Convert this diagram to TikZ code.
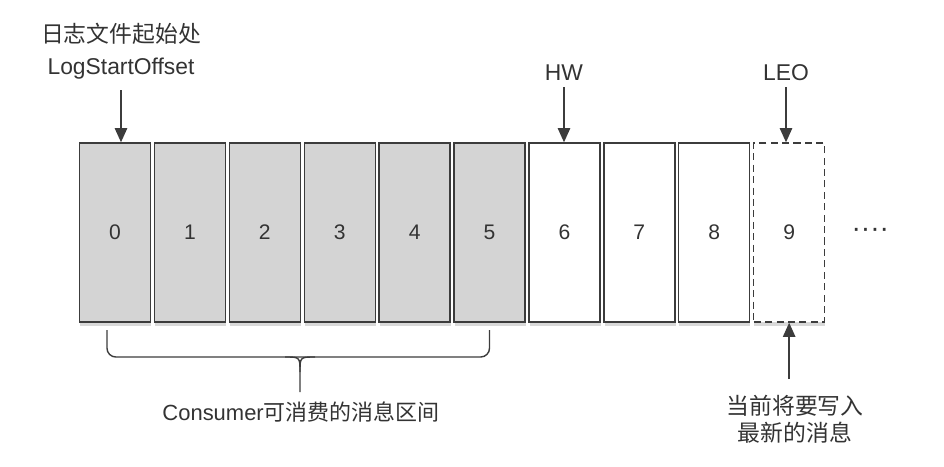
\documentclass[tikz,border=0pt]{standalone}
\usepackage{fontspec}
\setmainfont{Liberation Sans}
\newfontfamily\cjk{Noto Sans CJK SC}
\usetikzlibrary{positioning,shadows,arrows.meta}
\definecolor{cellgray}{RGB}{212,212,212}
\definecolor{linegray}{RGB}{60,60,60}

\begin{document}
\begin{tikzpicture}[
        node distance=0.05cm,
        cell/.style={rectangle, draw=linegray, line width=0.8pt, fill=white, minimum width=1.42cm, minimum height=3.58cm, font=\fontsize{12}{14}\selectfont, text=black!80, drop shadow={shadow xshift=0.4pt, shadow yshift=-2pt, opacity=0.3}},
        used/.style={cell, fill=cellgray},
        note/.style={font=\fontsize{13}{18}\selectfont, align=center, text=black!80},
        arrow/.style={-{Triangle[length=8pt,width=7pt]}, line width=0.8pt, draw=linegray}
    ]
        \useasboundingbox (0,0) rectangle (18.88,-9.32);

        % message cells
        \node[used] (b0) at (2.30,-4.65) {0};
        \node[used, right=of b0] (b1) {1};
        \node[used, right=of b1] (b2) {2};
        \node[used, right=of b2] (b3) {3};
        \node[used, right=of b3] (b4) {4};
        \node[used, right=of b4] (b5) {5};
        \node[cell, right=of b5] (b6) {6};
        \node[cell, right=of b6] (b7) {7};
        \node[cell, right=of b7] (b8) {8};
        \node[cell, dash pattern=on 4pt off 2.5pt, right=of b8] (b9) {9};
        \node[font=\fontsize{16}{18}\selectfont, text=black!80, right=0.4cm of b9] (more) {····};

        % pointers
        \node[note] (lso) at (2.42,-1.02) {{\cjk 日志文件起始处}\\LogStartOffset};
        \node[note] (hw) at (11.28,-1.46) {HW};
        \node[note] (leo) at (15.72,-1.46) {LEO};
        \node[note, font=\fontsize{13}{15.5}\selectfont\cjk] (write) at (15.9,-8.39) {当前将要写入\\最新的消息};

        \draw[arrow] ([yshift=-1mm]lso.south) -- (lso.south |- b0.north);
        \draw[arrow] (hw.south) -- (hw.south |- b6.north);
        \draw[arrow] (leo.south) -- (leo.south |- b9.north);
        \draw[arrow] ([yshift=2mm]b9.south |- write.north) -- (b9.south);

        % consumer range brace
        \coordinate (bl) at (2.14,-6.60);
        \coordinate (br) at (9.79,-6.60);
        \coordinate (tip) at (6.00,-7.84);
        \draw[linegray, line width=0.8pt, rounded corners=5pt] (bl) -- (bl |- 0,-7.14) -- (br |- 0,-7.14) -- (br);
        \draw[linegray, line width=0.8pt] (5.70,-7.14) .. controls (6.00,-7.14) .. (6.00,-7.44) -- (tip);
        \draw[linegray, line width=0.8pt] (6.30,-7.14) .. controls (6.00,-7.14) .. (6.00,-7.44);
        \node[note, font=\fontsize{12.5}{15}\selectfont] (range) at (6.02,-8.24) {Consumer{\cjk 可消费的消息区间}};
    \end{tikzpicture}
\end{document}
